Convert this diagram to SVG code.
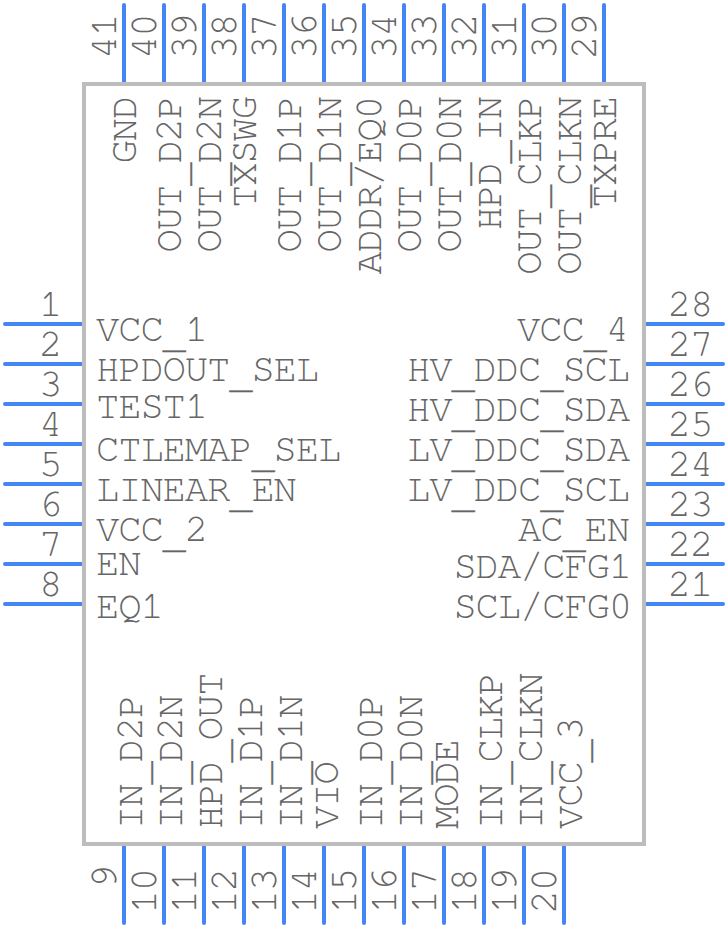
<svg xmlns="http://www.w3.org/2000/svg" width="728" height="928" viewBox="0 0 728 928">
<style>
text{font-family:"FreeMono","Liberation Mono",monospace;font-size:39px;letter-spacing:-1.2px;fill:#666666}
.e{text-anchor:end}.m{text-anchor:middle}
.u{stroke:#666666;stroke-width:.3}
.pin{stroke:#4287f5;stroke-width:4;fill:none;stroke-linecap:round}
#body{fill:#ffffff;stroke:#bdbdbd;stroke-width:4}
</style>
<rect width="728" height="928" fill="#ffffff"/>
<g id="connectors" class="pin">
<path d="M5 324H84M5 364H84M5 404H84M5 444H84M5 484H84M5 524H84M5 564H84M5 604H84"/>
<path d="M644 324H723M644 364H723M644 404H723M644 444H723M644 484H723M644 524H723M644 564H723M644 604H723"/>
<path d="M124 5V84M164 5V84M204 5V84M244 5V84M284 5V84M324 5V84M364 5V84M404 5V84M444 5V84M484 5V84M524 5V84M564 5V84M604 5V84"/>
<path d="M124 844V923M164 844V923M204 844V923M244 844V923M284 844V923M324 844V923M364 844V923M404 844V923M444 844V923M484 844V923M524 844V923M564 844V923"/>
</g>
<g id="chip"><rect id="body" x="84" y="84" width="560" height="760"/></g>
<g id="pin1"><text class="m" x="50" y="316">1</text><text x="96" y="341">VCC<tspan class="u" dy="6">_</tspan><tspan dy="-6">1</tspan></text></g>
<g id="pin2"><text class="m" x="50" y="356">2</text><text x="96" y="381">HPDOUT<tspan class="u" dy="6">_</tspan><tspan dy="-6">SEL</tspan></text></g>
<g id="pin3"><text class="m" x="50" y="396">3</text><text x="96" y="418">TEST1</text></g>
<g id="pin4"><text class="m" x="50" y="436">4</text><text x="96" y="461">CTLEMAP<tspan class="u" dy="6">_</tspan><tspan dy="-6">SEL</tspan></text></g>
<g id="pin5"><text class="m" x="50" y="476">5</text><text x="96" y="501">LINEAR<tspan class="u" dy="6">_</tspan><tspan dy="-6">EN</tspan></text></g>
<g id="pin6"><text class="m" x="50" y="516">6</text><text x="96" y="541">VCC<tspan class="u" dy="6">_</tspan><tspan dy="-6">2</tspan></text></g>
<g id="pin7"><text class="m" x="50" y="556">7</text><text x="96" y="575">EN</text></g>
<g id="pin8"><text class="m" x="50" y="596">8</text><text x="96" y="618">EQ1</text></g>
<g id="pin28"><text class="m" x="690" y="316">28</text><text class="e" x="628" y="341">VCC<tspan class="u" dy="6">_</tspan><tspan dy="-6">4</tspan></text></g>
<g id="pin27"><text class="m" x="690" y="356">27</text><text class="e" x="629" y="381">HV<tspan class="u" dy="6">_</tspan><tspan dy="-6">DDC</tspan><tspan class="u" dy="6">_</tspan><tspan dy="-6">SCL</tspan></text></g>
<g id="pin26"><text class="m" x="690" y="396">26</text><text class="e" x="629" y="421">HV<tspan class="u" dy="6">_</tspan><tspan dy="-6">DDC</tspan><tspan class="u" dy="6">_</tspan><tspan dy="-6">SDA</tspan></text></g>
<g id="pin25"><text class="m" x="690" y="436">25</text><text class="e" x="629" y="461">LV<tspan class="u" dy="6">_</tspan><tspan dy="-6">DDC</tspan><tspan class="u" dy="6">_</tspan><tspan dy="-6">SDA</tspan></text></g>
<g id="pin24"><text class="m" x="690" y="476">24</text><text class="e" x="629" y="501">LV<tspan class="u" dy="6">_</tspan><tspan dy="-6">DDC</tspan><tspan class="u" dy="6">_</tspan><tspan dy="-6">SCL</tspan></text></g>
<g id="pin23"><text class="m" x="690" y="516">23</text><text class="e" x="629" y="541">AC<tspan class="u" dy="6">_</tspan><tspan dy="-6">EN</tspan></text></g>
<g id="pin22"><text class="m" x="690" y="556">22</text><text class="e" x="631" y="578">SDA/CFG1</text></g>
<g id="pin21"><text class="m" x="690" y="596">21</text><text class="e" x="631" y="618">SCL/CFG0</text></g>
<g id="pin41"><text transform="translate(116 59) rotate(-90)">41</text><text class="e" transform="translate(136 97) rotate(-90)">GND</text></g>
<g id="pin40"><text transform="translate(156 59) rotate(-90)">40</text><text class="e" transform="translate(181 97) rotate(-90)">OUT<tspan class="u" dy="6">_</tspan><tspan dy="-6">D2P</tspan></text></g>
<g id="pin39"><text transform="translate(196 59) rotate(-90)">39</text><text class="e" transform="translate(221 97) rotate(-90)">OUT<tspan class="u" dy="6">_</tspan><tspan dy="-6">D2N</tspan></text></g>
<g id="pin38"><text transform="translate(236 59) rotate(-90)">38</text><text class="e" transform="translate(256 97) rotate(-90)">TXSWG</text></g>
<g id="pin37"><text transform="translate(276 59) rotate(-90)">37</text><text class="e" transform="translate(301 97) rotate(-90)">OUT<tspan class="u" dy="6">_</tspan><tspan dy="-6">D1P</tspan></text></g>
<g id="pin36"><text transform="translate(316 59) rotate(-90)">36</text><text class="e" transform="translate(341 97) rotate(-90)">OUT<tspan class="u" dy="6">_</tspan><tspan dy="-6">D1N</tspan></text></g>
<g id="pin35"><text transform="translate(356 59) rotate(-90)">35</text><text class="e" transform="translate(381 97) rotate(-90)">ADDR/EQ0</text></g>
<g id="pin34"><text transform="translate(396 59) rotate(-90)">34</text><text class="e" transform="translate(421 97) rotate(-90)">OUT<tspan class="u" dy="6">_</tspan><tspan dy="-6">D0P</tspan></text></g>
<g id="pin33"><text transform="translate(436 59) rotate(-90)">33</text><text class="e" transform="translate(461 97) rotate(-90)">OUT<tspan class="u" dy="6">_</tspan><tspan dy="-6">D0N</tspan></text></g>
<g id="pin32"><text transform="translate(476 59) rotate(-90)">32</text><text class="e" transform="translate(501 97) rotate(-90)">HPD<tspan class="u" dy="6">_</tspan><tspan dy="-6">IN</tspan></text></g>
<g id="pin31"><text transform="translate(516 59) rotate(-90)">31</text><text class="e" transform="translate(541 97) rotate(-90)">OUT<tspan class="u" dy="6">_</tspan><tspan dy="-6">CLKP</tspan></text></g>
<g id="pin30"><text transform="translate(556 59) rotate(-90)">30</text><text class="e" transform="translate(581 97) rotate(-90)">OUT<tspan class="u" dy="6">_</tspan><tspan dy="-6">CLKN</tspan></text></g>
<g id="pin29"><text transform="translate(596 59) rotate(-90)">29</text><text class="e" transform="translate(616 97) rotate(-90)">TXPRE</text></g>
<g id="pin9"><text class="e" transform="translate(116 866) rotate(-90)">9</text><text transform="translate(142 829) rotate(-90)">IN<tspan class="u" dy="6">_</tspan><tspan dy="-6">D2P</tspan></text></g>
<g id="pin10"><text class="e" transform="translate(156 869) rotate(-90)">10</text><text transform="translate(182 829) rotate(-90)">IN<tspan class="u" dy="6">_</tspan><tspan dy="-6">D2N</tspan></text></g>
<g id="pin11"><text class="e" transform="translate(196 869) rotate(-90)">11</text><text transform="translate(222 829) rotate(-90)">HPD<tspan class="u" dy="6">_</tspan><tspan dy="-6">OUT</tspan></text></g>
<g id="pin12"><text class="e" transform="translate(236 869) rotate(-90)">12</text><text transform="translate(262 829) rotate(-90)">IN<tspan class="u" dy="6">_</tspan><tspan dy="-6">D1P</tspan></text></g>
<g id="pin13"><text class="e" transform="translate(276 869) rotate(-90)">13</text><text transform="translate(302 829) rotate(-90)">IN<tspan class="u" dy="6">_</tspan><tspan dy="-6">D1N</tspan></text></g>
<g id="pin14"><text class="e" transform="translate(316 869) rotate(-90)">14</text><text transform="translate(338 829) rotate(-90)">VIO</text></g>
<g id="pin15"><text class="e" transform="translate(356 869) rotate(-90)">15</text><text transform="translate(382 829) rotate(-90)">IN<tspan class="u" dy="6">_</tspan><tspan dy="-6">D0P</tspan></text></g>
<g id="pin16"><text class="e" transform="translate(396 869) rotate(-90)">16</text><text transform="translate(422 829) rotate(-90)">IN<tspan class="u" dy="6">_</tspan><tspan dy="-6">D0N</tspan></text></g>
<g id="pin17"><text class="e" transform="translate(436 869) rotate(-90)">17</text><text transform="translate(458 829) rotate(-90)">MODE</text></g>
<g id="pin18"><text class="e" transform="translate(476 869) rotate(-90)">18</text><text transform="translate(502 829) rotate(-90)">IN<tspan class="u" dy="6">_</tspan><tspan dy="-6">CLKP</tspan></text></g>
<g id="pin19"><text class="e" transform="translate(516 869) rotate(-90)">19</text><text transform="translate(542 829) rotate(-90)">IN<tspan class="u" dy="6">_</tspan><tspan dy="-6">CLKN</tspan></text></g>
<g id="pin20"><text class="e" transform="translate(556 869) rotate(-90)">20</text><text transform="translate(582 829) rotate(-90)">VCC<tspan class="u" dy="6">_</tspan><tspan dy="-6">3</tspan></text></g>
</svg>
